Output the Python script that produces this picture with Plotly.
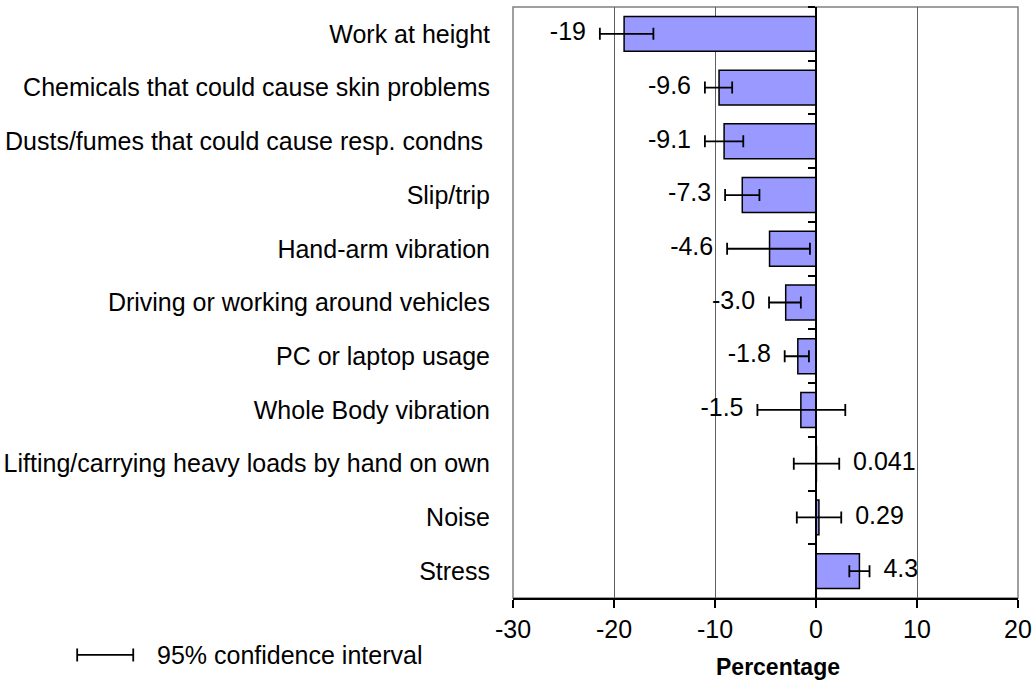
import plotly.graph_objects as go

# --- data ---
hazards = [
    "Work at height",
    "Chemicals that could cause skin problems",
    "Dusts/fumes that could cause resp. condns\u00a0",
    "Slip/trip",
    "Hand-arm vibration",
    "Driving or working around vehicles",
    "PC or laptop usage",
    "Whole Body vibration",
    "Lifting/carrying heavy loads by hand on own",
    "Noise",
    "Stress",
]
change = [-19, -9.6, -9.1, -7.3, -4.6, -3.0, -1.8, -1.5, 0.041, 0.29, 4.3]
ci_low = [-21.4, -11.0, -11.0, -9.0, -8.8, -4.65, -3.1, -5.8, -2.2, -1.9, 3.3]
ci_high = [-16.1, -8.3, -7.2, -5.6, -0.6, -1.5, -0.7, 2.9, 2.3, 2.5, 5.3]
value_labels = ["-19", "-9.6", "-9.1", "-7.3", "-4.6", "-3.0", "-1.8", "-1.5", "0.041", "0.29", "4.3"]
x_ticks = [-30, -20, -10, 0, 10, 20]
x_ticktext = ["-30", "-20", "-10", "0", "10", "20"]

FONT = "Liberation Sans, Arial, sans-serif"
FS = 25

err_plus = [h - v for h, v in zip(ci_high, change)]
err_minus = [v - l for v, l in zip(change, ci_low)]

fig = go.Figure()

# Bars with 95% CI
fig.add_trace(go.Bar(
    x=change, y=hazards, orientation="h",
    marker=dict(color="#9999FF", line=dict(color="black", width=1.5)),
    error_x=dict(type="data", symmetric=False, array=err_plus, arrayminus=err_minus,
                 color="black", thickness=1.8, width=6),
    showlegend=False, hoverinfo="x+y",
))

# Value labels just beyond the CI end
lab_x = [l if v < 0 else h for v, l, h in zip(change, ci_low, ci_high)]
lab_pos = ["middle left" if v < 0 else "middle right" for v in change]
fig.add_trace(go.Scatter(
    x=lab_x, y=hazards, mode="text", text=["  " + t + "  " for t in value_labels],
    textposition=lab_pos, textfont=dict(family=FONT, size=FS, color="black"),
    showlegend=False, hoverinfo="skip", yaxis="y2", cliponaxis=False,
))

# Legend: error bar symbol + text
ly = -0.0964
fig.add_shape(type="line", xref="paper", yref="paper", x0=-0.863, x1=-0.752, y0=ly, y1=ly,
              line=dict(color="black", width=1.8))
for xp in (-0.863, -0.752):
    fig.add_shape(type="line", xref="paper", yref="paper", x0=xp, x1=xp, y0=ly - 0.011, y1=ly + 0.011,
                  line=dict(color="black", width=1.8))
fig.add_annotation(text="95% confidence interval", xref="paper", yref="paper", x=-0.709, y=ly,
                   xanchor="left", yanchor="middle", showarrow=False,
                   font=dict(family=FONT, size=FS, color="black"))

# axis title
fig.add_annotation(text="<b>Percentage</b>", xref="paper", yref="paper", x=0.525, y=-0.117,
                   xanchor="center", yanchor="middle", showarrow=False,
                   font=dict(family=FONT, size=23, color="black"))

# Plot frame (gray)
fig.add_shape(type="rect", xref="paper", yref="paper", x0=0, x1=1, y0=0, y1=1,
              line=dict(color="#808080", width=1.5), layer="below")

fig.update_layout(
    width=1035, height=681,
    margin=dict(l=513, r=17, t=7, b=83),
    paper_bgcolor="white", plot_bgcolor="white",
    font=dict(family=FONT, size=FS, color="black"),
    bargap=0.35,
    xaxis=dict(range=[-30, 20], tickvals=x_ticks, ticktext=x_ticktext, automargin=False,
               showline=True, linecolor="black", linewidth=1.5,
               ticks="outside", ticklen=8, tickwidth=1.5, tickcolor="black",
               showgrid=True, gridcolor="#606060", gridwidth=1, zeroline=False,
               tickfont=dict(size=FS)),
    yaxis=dict(type="category", categoryorder="array", categoryarray=hazards, range=[10.5, -0.5],
               automargin=False,
               showline=False, showgrid=False, zeroline=False, ticks="", ticklabelstandoff=22,
               tickfont=dict(size=FS)),
    yaxis2=dict(type="category", categoryorder="array", categoryarray=hazards, range=[10.5, -0.5],
                overlaying="y", anchor="free", position=0.6, side="left", automargin=False,
                showline=True, linecolor="black", linewidth=1.5, showgrid=False, zeroline=False,
                ticks="outside", ticklen=7, tickwidth=1.5, tickcolor="black", tickson="boundaries",
                showticklabels=False),
)

fig.write_html("out.html", config={"displayModeBar": False},
               post_script="document.body.style.margin='0';")
